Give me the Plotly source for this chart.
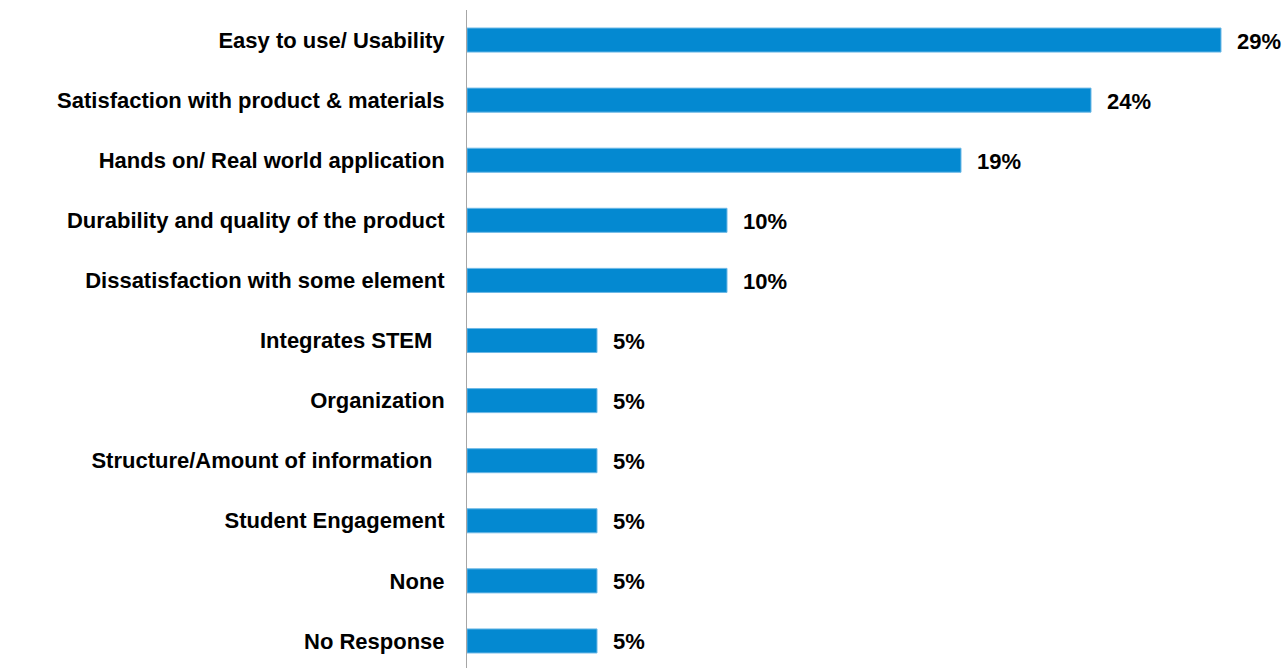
import plotly.graph_objects as go

categories = [
    'Easy to use/ Usability',
    'Satisfaction with product & materials',
    'Hands on/ Real world application',
    'Durability and quality of the product',
    'Dissatisfaction with some element',
    'Integrates STEM\u00a0\u00a0',
    'Organization',
    'Structure/Amount of information\u00a0\u00a0',
    'Student Engagement',
    'None',
    'No Response',
]
values = [29, 24, 19, 10, 10, 5, 5, 5, 5, 5, 5]
value_labels = [f'{v}%' for v in values]

font_family = 'Liberation Sans, Arial, sans-serif'

fig = go.Figure()

fig.add_trace(go.Bar(
    x=values,
    y=categories,
    orientation='h',
    marker=dict(color='#0489d1', line=dict(color='#6cb8e6', width=1)),
    hoverinfo='skip',
))

# 값 라벨 (막대 끝에서 약간 띄움)
for cat, v, lab in zip(categories, values, value_labels):
    fig.add_annotation(
        x=v, y=cat, text=lab, showarrow=False,
        xanchor='left', yanchor='middle', xshift=14, yshift=-1,
        font=dict(family=font_family, size=22, color='black', weight='bold'),
    )

fig.update_layout(
    width=1286,
    height=668,
    plot_bgcolor='white',
    paper_bgcolor='white',
    showlegend=False,
    bargap=0.6,
    margin=dict(l=467, r=13, t=10, b=0),
    xaxis=dict(range=[0, 31], visible=False, fixedrange=True),
    yaxis=dict(
        categoryorder='array',
        categoryarray=categories,
        range=[10.45, -0.5],
        showline=True,
        linecolor='#a6a6a6',
        linewidth=1,
        showgrid=False,
        ticks='',
        ticklabelstandoff=17,
        fixedrange=True,
        tickfont=dict(family=font_family, size=22, color='black', weight='bold'),
    ),
)

# body 기본 여백 제거
fig.write_html(
    'out.html',
    config={'displayModeBar': False},
    post_script="document.body.style.margin='0';document.body.style.overflow='hidden';",
)
